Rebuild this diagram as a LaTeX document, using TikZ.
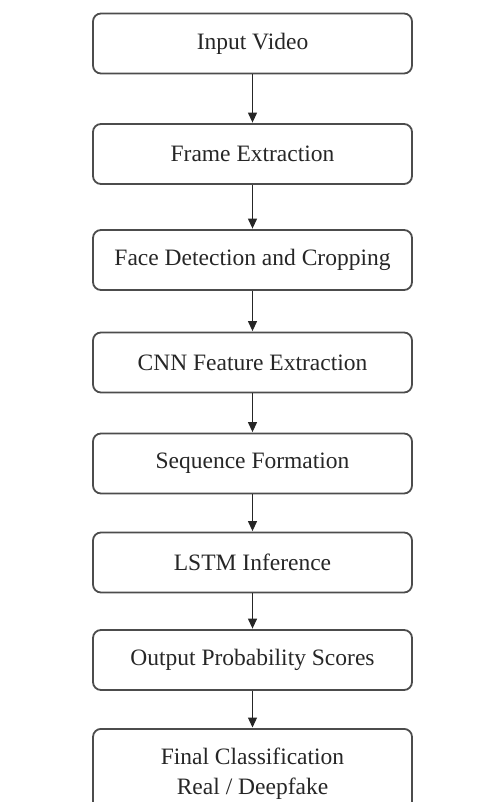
\documentclass[tikz,border=0pt]{standalone}
\usepackage{fontspec}
\setmainfont{Liberation Serif}
\usetikzlibrary{arrows.meta}
\begin{document}
\begin{tikzpicture}[x=1pt,y=-1pt,
  stagebox/.style={draw=black!70, line width=1.8pt, rounded corners=8pt,
    minimum width=319pt, minimum height=60pt, inner sep=0pt,
    font=\fontsize{23.5}{30}\selectfont, text=black!85, align=center},
  flow/.style={draw=black!85, line width=1.2pt,
    -{Triangle[length=10pt,width=9pt]}, shorten >=0.5pt}]
\useasboundingbox (0,0) rectangle (483,802);
\begin{scope}
\clip (0,0) rectangle (483,802);
\node[stagebox] (input)  at (252.5,43.5)  {Input Video};
\node[stagebox] (frames) at (252.5,154)   {Frame Extraction};
\node[stagebox] (faces)  at (252.5,260)   {Face Detection and Cropping};
\node[stagebox] (cnn)    at (252.5,362.5) {CNN Feature Extraction};
\node[stagebox] (seq)    at (252.5,463.5) {Sequence Formation};
\node[stagebox] (lstm)   at (252.5,562.5) {LSTM Inference};
\node[stagebox] (scores) at (252.5,660)   {Output Probability Scores};
\node[stagebox, minimum height=90pt, anchor=north] (final) at (252.5,728)
  {Final Classification\\Real / Deepfake};
\end{scope}
\draw[flow] (input)  -- (frames);
\draw[flow] (frames) -- (faces);
\draw[flow] (faces)  -- (cnn);
\draw[flow] (cnn)    -- (seq);
\draw[flow] (seq)    -- (lstm);
\draw[flow] (lstm)   -- (scores);
\draw[flow] (scores) -- (final);
\end{tikzpicture}
\end{document}
